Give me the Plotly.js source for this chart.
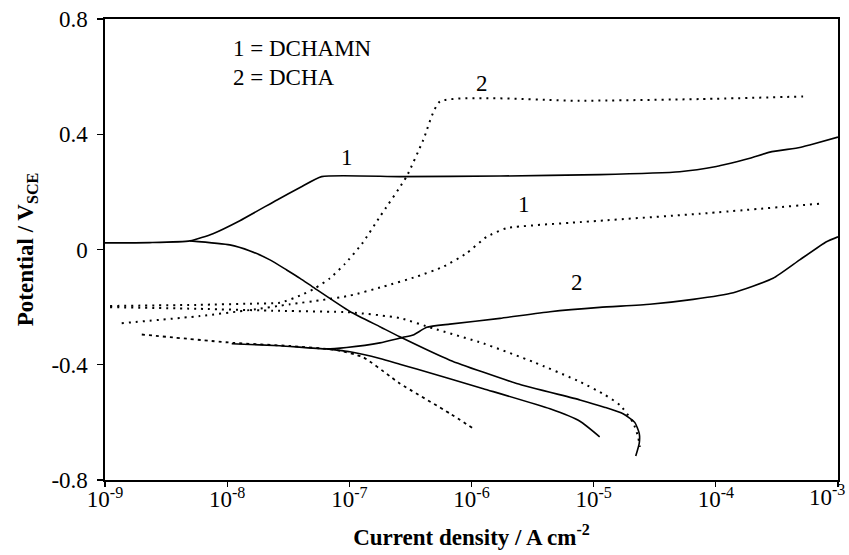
<!DOCTYPE html>
<html>
<head>
<meta charset="utf-8">
<script src="https://cdn.plot.ly/plotly-3.0.1.min.js"></script>
<style>
  html, body { margin: 0; padding: 0; background: #ffffff; }
  #chart { width: 849px; height: 555px; }
</style>
</head>
<body>
<div id="chart"></div>
<script>
// Polarization curves: current density (A cm^-2) vs potential (V vs SCE)

// 1 = DCHAMN, solid, anodic branch
const dchamnSolidAnodicI = [1.00e-9, 2.33e-9, 4.97e-9, 7.65e-9, 1.27e-8, 2.56e-8, 3.95e-8, 5.93e-8,
  2.59e-7, 1.71e-6, 1.12e-5, 5.07e-5, 1.01e-4, 1.14e-4, 1.90e-4, 2.77e-4, 4.86e-4, 5.87e-4, 1.00e-3];
const dchamnSolidAnodicE = [0.023, 0.024, 0.030, 0.055, 0.100, 0.172, 0.215, 0.253,
  0.253, 0.255, 0.260, 0.270, 0.288, 0.293, 0.317, 0.338, 0.354, 0.363, 0.390];

// 1 = DCHAMN, solid, cathodic branch
const dchamnSolidCathodicI = [4.97e-9, 1.05e-8, 1.54e-8, 2.24e-8, 3.07e-8, 3.95e-8, 5.22e-8, 1.01e-7,
  1.78e-7, 2.59e-7, 6.65e-7, 2.34e-6, 7.72e-6, 1.24e-5, 1.74e-5, 2.17e-5, 2.36e-5, 2.36e-5, 2.21e-5];
const dchamnSolidCathodicE = [0.030, 0.016, -0.005, -0.036, -0.071, -0.100, -0.135, -0.215,
  -0.268, -0.303, -0.384, -0.465, -0.522, -0.548, -0.570, -0.600, -0.638, -0.673, -0.717];

// 2 = DCHA, solid, anodic branch
const dchaSolidAnodicI = [1.09e-8, 2.70e-8, 6.51e-8, 9.50e-8, 1.78e-7, 2.75e-7, 3.33e-7, 4.30e-7,
  6.65e-7, 1.71e-6, 4.39e-6, 1.12e-5, 2.88e-5, 6.52e-5, 1.39e-4, 2.94e-4, 4.86e-4, 8.05e-4, 1.00e-3];
const dchaSolidAnodicE = [-0.327, -0.334, -0.345, -0.340, -0.324, -0.305, -0.297, -0.270,
  -0.259, -0.239, -0.216, -0.201, -0.190, -0.173, -0.150, -0.100, -0.036, 0.027, 0.044];

// 2 = DCHA, solid, cathodic branch
const dchaSolidCathodicI = [6.51e-8, 1.01e-7, 1.78e-7, 2.59e-7, 3.56e-7, 1.25e-6, 4.39e-6, 7.72e-6, 1.12e-5];
const dchaSolidCathodicE = [-0.345, -0.355, -0.378, -0.398, -0.415, -0.483, -0.553, -0.596, -0.650];

// 2 = DCHA, dotted, anodic branch
const dchaDotAnodicI = [1.10e-9, 5.98e-9, 1.54e-8, 2.70e-8, 3.95e-8, 5.22e-8, 6.93e-8, 9.20e-8,
  1.27e-7, 1.78e-7, 2.94e-7, 4.03e-7, 5.51e-7, 7.71e-6, 7.40e-5, 5.18e-4];
const dchaDotAnodicE = [-0.196, -0.192, -0.188, -0.185, -0.160, -0.135, -0.100, -0.050,
  0.020, 0.114, 0.253, 0.380, 0.513, 0.516, 0.522, 0.531];

// 1 = DCHAMN, dotted, anodic branch
const dchamnDotAnodicI = [1.37e-9, 5.98e-9, 1.54e-8, 3.27e-8, 6.08e-8, 1.01e-7, 1.89e-7, 3.56e-7,
  5.86e-7, 9.12e-7, 1.33e-6, 1.94e-6, 7.71e-6, 7.40e-5, 7.55e-4];
const dchamnDotAnodicE = [-0.256, -0.231, -0.210, -0.190, -0.175, -0.160, -0.129, -0.094,
  -0.060, -0.013, 0.044, 0.074, 0.095, 0.124, 0.160];

// 1 = DCHAMN, dotted, cathodic branch
const dchamnDotCathodicI = [1.10e-9, 5.98e-9, 2.70e-8, 1.01e-7, 2.59e-7, 4.86e-7, 1.25e-6, 3.20e-6,
  7.72e-6, 1.24e-5, 1.64e-5, 2.10e-5, 2.31e-5, 2.39e-5];
const dchamnDotCathodicE = [-0.200, -0.206, -0.213, -0.218, -0.238, -0.274, -0.326, -0.390,
  -0.459, -0.505, -0.540, -0.600, -0.650, -0.685];

// 2 = DCHA, dashed, cathodic branch
const dchaDashCathodicI = [2.00e-9, 1.12e-8, 3.27e-8, 7.87e-8, 1.30e-7, 2.15e-7, 2.59e-7, 6.65e-7, 1.03e-6];
const dchaDashCathodicE = [-0.295, -0.324, -0.335, -0.349, -0.374, -0.440, -0.465, -0.569, -0.621];

// Axis ticks
const xTickVals = [1e-9, 1e-8, 1e-7, 1e-6, 1e-5, 1e-4, 1e-3];
const xTickText = ['10<sup>-9</sup>', '10<sup>-8</sup>', '10<sup>-7</sup>', '10<sup>-6</sup>',
  '10<sup>-5</sup>', '10<sup>-4</sup>', '10<sup>-3</sup>'];
const yTickVals = [-0.8, -0.4, 0, 0.4, 0.8];
const yTickText = ['-0.8', '-0.4', '0', '0.4', '0.8'];

// Key text and curve numbers
const keyLines = ['1 = DCHAMN', '2 = DCHA'];
const curveLabels = [
  { text: '1', i: 9.5e-8, e: 0.319 },
  { text: '2', i: 1.21e-6, e: 0.575 },
  { text: '1', i: 2.69e-6, e: 0.155 },
  { text: '2', i: 7.36e-6, e: -0.113 }
];

const serif = 'Times New Roman';
const serifBold = 'Liberation Serif';

function curve(x, y, dash, width) {
  return {
    x: x, y: y, type: 'scatter', mode: 'lines',
    line: { color: '#000000', width: width, dash: dash, shape: 'spline', smoothing: 0.5 },
    hoverinfo: 'skip', showlegend: false
  };
}

const traces = [
  curve(dchamnSolidAnodicI, dchamnSolidAnodicE, 'solid', 1.6),
  curve(dchamnSolidCathodicI, dchamnSolidCathodicE, 'solid', 1.6),
  curve(dchaSolidAnodicI, dchaSolidAnodicE, 'solid', 1.6),
  curve(dchaSolidCathodicI, dchaSolidCathodicE, 'solid', 1.6),
  curve(dchaDotAnodicI, dchaDotAnodicE, '2px,5px', 2),
  curve(dchamnDotAnodicI, dchamnDotAnodicE, '2px,5px', 2),
  curve(dchamnDotCathodicI, dchamnDotCathodicE, '2px,5px', 2),
  curve(dchaDashCathodicI, dchaDashCathodicE, '3px,4px', 1.8)
];

const textFont = { family: serif, size: 23, color: '#000000', weight: 'normal' };

// The last decade label sits at the right edge, so it is placed as a right-anchored note
const lastTick = xTickVals.length - 1;
const shownTickText = xTickText.map(function (t, k) { return k === lastTick ? '' : t; });

const annotations = [{
  xref: 'paper', yref: 'paper', x: 1.0125, y: 0, yshift: 1,
  xanchor: 'right', yanchor: 'top', showarrow: false,
  text: xTickText[lastTick], font: textFont
}];
keyLines.forEach(function (t, k) {
  annotations.push({
    xref: 'paper', yref: 'paper', x: 0.172, y: 0.937 - k * 0.063,
    xanchor: 'left', yanchor: 'middle', showarrow: false, text: t, font: textFont
  });
});
curveLabels.forEach(function (c) {
  annotations.push({
    xref: 'x', yref: 'y', x: Math.log10(c.i), y: c.e,
    xanchor: 'center', yanchor: 'middle', showarrow: false, text: c.text, font: textFont
  });
});

const layout = {
  width: 849, height: 555,
  margin: { l: 105, r: 11, t: 19, b: 75, pad: 0 },
  paper_bgcolor: '#ffffff', plot_bgcolor: '#ffffff',
  font: { family: serif, color: '#000000', size: 22 },
  showlegend: false,
  xaxis: {
    type: 'log', range: [-9, -3], autorange: false,
    tickmode: 'array', tickvals: xTickVals, ticktext: shownTickText,
    ticks: 'outside', ticklen: 5, tickwidth: 1.2, tickcolor: '#000000',
    ticklabelstandoff: -7,
    showline: true, linecolor: '#000000', linewidth: 1.6, mirror: true,
    showgrid: false, zeroline: false,
    tickfont: textFont,
    title: { text: 'Current density / A cm<sup>-2</sup>', standoff: 17,
      font: { family: serifBold, size: 23, color: '#000000', weight: 'bold' } }
  },
  yaxis: {
    range: [-0.8, 0.8], autorange: false,
    tickmode: 'array', tickvals: yTickVals, ticktext: yTickText,
    ticks: 'outside', ticklen: 6, tickwidth: 1.2, tickcolor: '#000000',
    ticklabelstandoff: 5,
    showline: true, linecolor: '#000000', linewidth: 1.6, mirror: true,
    showgrid: false, zeroline: false,
    tickfont: textFont,
    title: { text: 'Potential / V<sub>SCE</sub>', standoff: 11,
      font: { family: serifBold, size: 23, color: '#000000', weight: 'bold' } }
  },
  annotations: annotations
};

Plotly.newPlot('chart', traces, layout, { staticPlot: true, displayModeBar: false });
</script>
</body>
</html>
